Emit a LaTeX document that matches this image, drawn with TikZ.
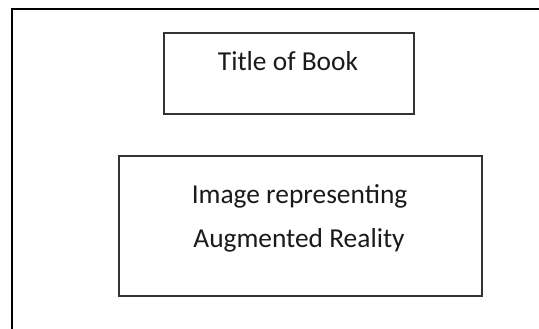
\documentclass[tikz,border=0pt]{standalone}
\usepackage{fontspec}
\setmainfont{Carlito}
\definecolor{boxline}{HTML}{333333}
\definecolor{txt}{HTML}{1A1A1A}
\tikzset{
  frameline/.style={draw=black, line width=1.6bp},
  boxnode/.style={draw=boxline, line width=1.6bp, inner sep=0pt},
  label/.style={text=txt, font=\fontsize{27.5}{33}\selectfont, inner sep=0pt, anchor=base}
}
\begin{document}
\begin{tikzpicture}[x=1bp,y=1bp]
\useasboundingbox (0,0) rectangle (539,328);
\coordinate (fbl) at (12,-2);
\coordinate (ftl) at (12,319);
\coordinate (ftr) at (541,319);
\draw[frameline] (fbl) -- (ftl) -- (ftr);
\node[boxnode, minimum width=250bp, minimum height=81bp] (title) at (289,254.5) {};
\node[label] (titletext) at (288,258) {Title of Book};
\node[boxnode, minimum width=363bp, minimum height=140bp] (image) at (300.5,102) {};
\node[label] (imgline1) at (299.5,125) {Image representing};
\node[label] (imgline2) at (299,81) {Augmented Reality};
\end{tikzpicture}
\end{document}
